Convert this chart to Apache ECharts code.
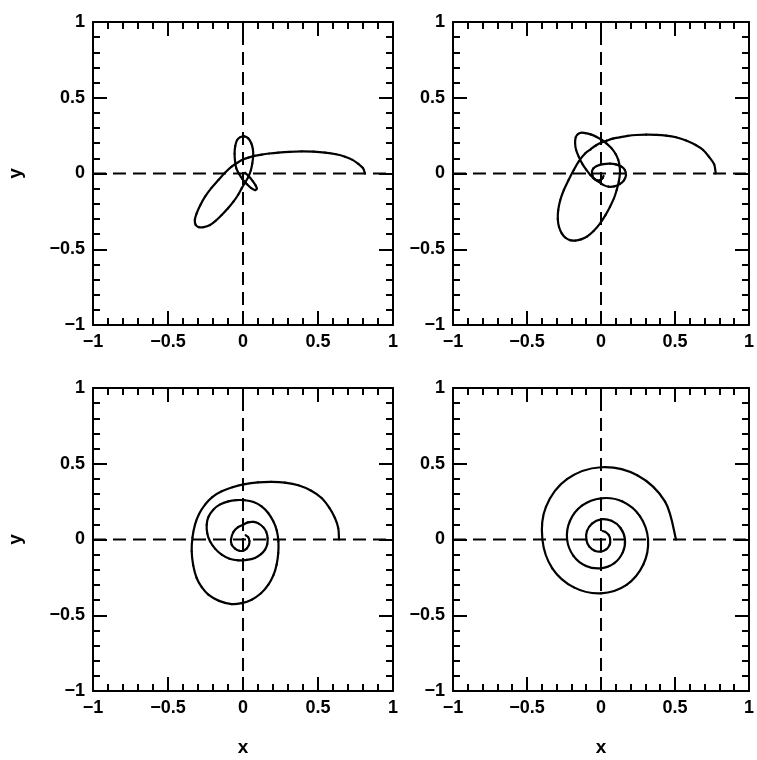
<!DOCTYPE html>
<html>
<head>
<meta charset="utf-8">
<script src="https://cdn.jsdelivr.net/npm/echarts@6/dist/echarts.min.js"></script>
<style>
html,body{margin:0;padding:0;background:#fff;}
#chart{width:757px;height:760px;}
</style>
</head>
<body>
<div id="chart"></div>
<script>
// Axis ticks (both axes of every panel)
var tickValues = [-1, -0.5, 0, 0.5, 1];
var tickLabels = ['\u22121', '\u22120.5', '0', '0.5', '1'];

// Curve in panel 1 (top-left), [x, y]
var curveTL = [
  [0.813, 0.0], [0.8, 0.035], [0.769, 0.063], [0.73, 0.09], [0.68, 0.111], [0.62, 0.127],
  [0.547, 0.138], [0.47, 0.144], [0.391, 0.146], [0.31, 0.143], [0.236, 0.138], [0.175, 0.132],
  [0.124, 0.125], [0.075, 0.116], [0.036, 0.105], [0.0, 0.092], [-0.031, 0.075], [-0.076, 0.045],
  [-0.12, 0.005], [-0.164, -0.043], [-0.21, -0.095], [-0.253, -0.153], [-0.285, -0.21],
  [-0.309, -0.263], [-0.321, -0.305], [-0.316, -0.338], [-0.295, -0.354], [-0.262, -0.354],
  [-0.22, -0.34], [-0.18, -0.31], [-0.142, -0.274], [-0.1, -0.23], [-0.064, -0.186],
  [-0.032, -0.14], [-0.009, -0.098], [0.017, -0.055], [0.036, -0.021], [0.052, 0.02],
  [0.062, 0.067], [0.068, 0.115], [0.066, 0.16], [0.055, 0.2], [0.035, 0.232], [0.009, 0.245],
  [-0.018, 0.24], [-0.04, 0.22], [-0.052, 0.18], [-0.056, 0.13], [-0.053, 0.08], [-0.045, 0.035],
  [-0.028, 0.0], [-0.005, -0.035], [0.025, -0.07], [0.055, -0.097], [0.08, -0.11], [0.092, -0.1],
  [0.085, -0.08], [0.065, -0.05], [0.04, -0.02], [0.015, 0.005]
];

// Curve in panel 2 (top-right)
var curveTR = [
  [0.775, 0.0], [0.765, 0.06], [0.73, 0.11], [0.69, 0.155], [0.64, 0.188], [0.575, 0.218],
  [0.507, 0.239], [0.44, 0.25], [0.373, 0.255], [0.305, 0.256], [0.24, 0.254], [0.18, 0.248],
  [0.128, 0.239], [0.08, 0.23], [0.039, 0.217], [0.0, 0.203], [-0.035, 0.185], [-0.07, 0.16],
  [-0.106, 0.133], [-0.15, 0.08], [-0.184, 0.023], [-0.22, -0.045], [-0.251, -0.109],
  [-0.275, -0.175], [-0.289, -0.241], [-0.292, -0.3], [-0.284, -0.351], [-0.265, -0.395],
  [-0.24, -0.424], [-0.21, -0.44], [-0.173, -0.443], [-0.135, -0.435], [-0.095, -0.417],
  [-0.05, -0.38], [-0.006, -0.329], [0.03, -0.275], [0.061, -0.219], [0.088, -0.163],
  [0.106, -0.109], [0.12, -0.055], [0.128, 0.0], [0.126, 0.047], [0.117, 0.089], [0.098, 0.13],
  [0.072, 0.166], [0.04, 0.196], [0.006, 0.221], [-0.033, 0.243], [-0.07, 0.258],
  [-0.105, 0.267], [-0.135, 0.269], [-0.157, 0.259], [-0.171, 0.238], [-0.175, 0.2],
  [-0.168, 0.155], [-0.15, 0.11], [-0.128, 0.067], [-0.1, 0.025], [-0.072, -0.01],
  [-0.045, -0.035], [-0.017, -0.054], [0.015, -0.075], [0.05, -0.087], [0.09, -0.085],
  [0.128, -0.069], [0.155, -0.045], [0.169, -0.01], [0.162, 0.022], [0.139, 0.045], [0.1, 0.06],
  [0.061, 0.065], [0.015, 0.062], [-0.028, 0.05], [-0.052, 0.033], [-0.061, 0.012],
  [-0.058, -0.012], [-0.05, -0.032], [-0.028, -0.045], [-0.006, -0.043], [0.01, -0.032],
  [0.017, -0.016]
];

// Curve in panel 3 (bottom-left)
var curveBL = [
  [0.64, 0.0], [0.635, 0.075], [0.613, 0.142], [0.575, 0.21], [0.524, 0.274], [0.455, 0.322],
  [0.369, 0.358], [0.28, 0.375], [0.191, 0.38], [0.1, 0.377], [0.013, 0.366], [-0.07, 0.345],
  [-0.142, 0.318], [-0.205, 0.28], [-0.253, 0.23], [-0.293, 0.168], [-0.32, 0.098],
  [-0.337, 0.012], [-0.342, -0.078], [-0.332, -0.17], [-0.309, -0.254], [-0.275, -0.315],
  [-0.231, -0.364], [-0.16, -0.405], [-0.076, -0.426], [-0.01, -0.42], [0.058, -0.397],
  [0.12, -0.355], [0.169, -0.298], [0.203, -0.235], [0.224, -0.166], [0.235, -0.09],
  [0.236, -0.012], [0.225, 0.06], [0.202, 0.12], [0.168, 0.175], [0.124, 0.219], [0.07, 0.248],
  [0.013, 0.259], [-0.045, 0.26], [-0.098, 0.252], [-0.155, 0.23], [-0.198, 0.197],
  [-0.23, 0.15], [-0.242, 0.098], [-0.238, 0.04], [-0.22, -0.012], [-0.185, -0.062],
  [-0.142, -0.1], [-0.09, -0.127], [-0.031, -0.138], [0.025, -0.135], [0.08, -0.122],
  [0.12, -0.097], [0.147, -0.067], [0.162, -0.03], [0.164, 0.01], [0.155, 0.05], [0.136, 0.08],
  [0.105, 0.105], [0.069, 0.116], [0.033, 0.113], [0.002, 0.098], [-0.035, 0.08],
  [-0.064, 0.05], [-0.08, 0.0], [-0.075, -0.035], [-0.053, -0.06], [-0.025, -0.074],
  [0.002, -0.074], [0.025, -0.06], [0.04, -0.034], [0.043, -0.01], [0.035, 0.015], [0.018, 0.028]
];

// Curve in panel 4 (bottom-right)
var curveBR = [
  [0.507, 0.0], [0.433, 0.25], [0.245, 0.424], [0.0, 0.477], [-0.23, 0.398], [-0.372, 0.215],
  [-0.396, 0.0], [-0.329, -0.19], [-0.183, -0.316], [0.0, -0.355], [0.173, -0.299],
  [0.286, -0.165], [0.318, 0.0], [0.264, 0.153], [0.145, 0.251], [0.0, 0.272], [-0.129, 0.223],
  [-0.21, 0.122], [-0.229, 0.0], [-0.186, -0.108], [-0.101, -0.175], [0.0, -0.19],
  [0.09, -0.156], [0.147, -0.085], [0.162, 0.0], [0.132, 0.076], [0.071, 0.123], [0.0, 0.133],
  [-0.061, 0.105], [-0.095, 0.055], [-0.099, 0.0], [-0.08, -0.046], [-0.043, -0.074],
  [0.0, -0.08], [0.037, -0.064], [0.059, -0.034], [0.062, 0.0], [0.052, 0.03], [0.029, 0.05],
  [0.012, 0.055]
];

var curves = [curveTL, curveTR, curveBL, curveBR];
var zeroH = [[-1, 0], [1, 0]];
var zeroV = [[0, -1], [0, 1]];

var grids = [
  {left: 93, top: 22, width: 300, height: 303},
  {left: 453, top: 22, width: 299, height: 303},
  {left: 93, top: 388, width: 300, height: 303},
  {left: 453, top: 388, width: 299, height: 303}
];

var FONT = 'Liberation Sans';
function fmt(v) {
  var i = tickValues.indexOf(Math.round(v * 10) / 10);
  return i >= 0 ? tickLabels[i] : '';
}
function axisBase(gi, pos, showLabel) {
  return {
    gridIndex: gi, type: 'value', min: -1, max: 1, interval: 0.5, position: pos,
    axisLine: {show: true, onZero: false, lineStyle: {color: '#000', width: 2}},
    axisTick: {show: true, inside: true, length: 14, lineStyle: {color: '#000', width: 2}},
    minorTick: {show: true, splitNumber: 5, length: 7, lineStyle: {color: '#000', width: 2}},
    splitLine: {show: false},
    minorSplitLine: {show: false},
    axisLabel: {show: showLabel, formatter: fmt, color: '#000', fontSize: 18, fontWeight: 'bold', fontFamily: FONT, margin: 8}
  };
}

// Smooth curve: each data item draws the cubic segment to the next point
// (Catmull-Rom tangents), positions converted by the chart's own axes.
function makeRenderer(pts) {
  return function (params, api) {
    var i = params.dataIndex;
    if (i >= pts.length - 1) return null;
    var p0 = api.coord(pts[Math.max(i - 1, 0)]);
    var p1 = api.coord(pts[i]);
    var p2 = api.coord(pts[i + 1]);
    var p3 = api.coord(pts[Math.min(i + 2, pts.length - 1)]);
    return {
      type: 'bezierCurve',
      shape: {
        x1: p1[0], y1: p1[1], x2: p2[0], y2: p2[1],
        cpx1: p1[0] + (p2[0] - p0[0]) / 6, cpy1: p1[1] + (p2[1] - p0[1]) / 6,
        cpx2: p2[0] - (p3[0] - p1[0]) / 6, cpy2: p2[1] - (p3[1] - p1[1]) / 6
      },
      style: {stroke: '#000', lineWidth: 2.2, fill: null, lineCap: 'round'},
      silent: true
    };
  };
}

var xAxes = [], yAxes = [], series = [];
for (var g = 0; g < 4; g++) {
  var xb = axisBase(g, 'bottom', true);
  if (g >= 2) {
    xb.name = 'x'; xb.nameLocation = 'middle'; xb.nameGap = 47;
    xb.nameTextStyle = {color: '#000', fontSize: 19, fontWeight: 'bold', fontFamily: FONT};
  }
  xAxes.push(xb);
  xAxes.push(axisBase(g, 'top', false));
  var yl = axisBase(g, 'left', true);
  if (g % 2 === 0) {
    yl.name = 'y'; yl.nameLocation = 'middle'; yl.nameGap = 68;
    yl.nameTextStyle = {color: '#000', fontSize: 19, fontWeight: 'bold', fontFamily: FONT};
  }
  yAxes.push(yl);
  yAxes.push(axisBase(g, 'right', false));

  var common = {type: 'line', xAxisIndex: 2 * g, yAxisIndex: 2 * g, symbol: 'none', silent: true, animation: false};
  series.push(Object.assign({}, common, {data: zeroH, lineStyle: {color: '#000', width: 2, type: [13, 7]}}));
  series.push(Object.assign({}, common, {data: zeroV, lineStyle: {color: '#000', width: 2, type: [13, 7]}}));
  series.push({
    type: 'custom', xAxisIndex: 2 * g, yAxisIndex: 2 * g, silent: true, animation: false,
    clip: true, encode: {x: 0, y: 1}, data: curves[g], renderItem: makeRenderer(curves[g])
  });
}

var chart = echarts.init(document.getElementById('chart'), null, {renderer: 'canvas'});
chart.setOption({
  backgroundColor: '#fff',
  animation: false,
  grid: grids,
  xAxis: xAxes,
  yAxis: yAxes,
  series: series
});
</script>
</body>
</html>
